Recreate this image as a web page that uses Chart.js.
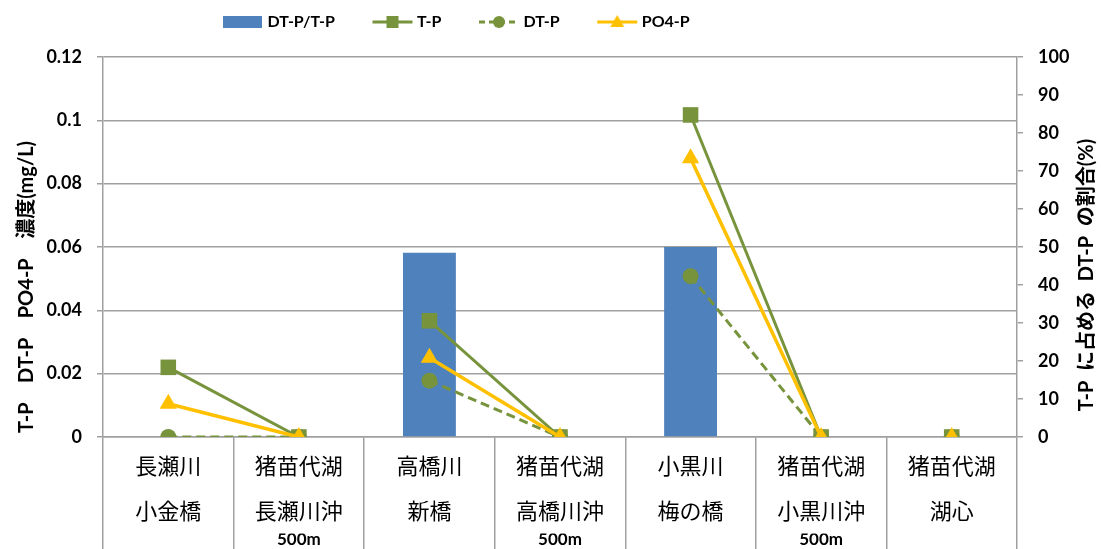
<!DOCTYPE html>
<html>
<head>
<meta charset="utf-8">
<script src="https://cdn.jsdelivr.net/npm/chart.js@4.4.1/dist/chart.umd.min.js"></script>
<style>
  html, body { margin: 0; padding: 0; background: #fff; }
  #wrap { width: 1101px; height: 549px; position: relative; }
</style>
</head>
<body>
<div id="wrap"><canvas id="c" width="1101" height="549"></canvas></div>
<script>
// ---- data ----
const labelLine1 = ['長瀬川', '猪苗代湖', '高橋川', '猪苗代湖', '小黒川', '猪苗代湖', '猪苗代湖'];
const labelLine2 = ['小金橋', '長瀬川沖', '新橋', '高橋川沖', '梅の橋', '小黒川沖', '湖心'];
const labelLine3 = ['', '500m', '', '500m', '', '500m', ''];
const ratioDTP = [0, 0, 48.5, 0, 50, 0, 0];          // DT-P/T-P (%)
const valTP    = [0.022, 0, 0.0367, 0, 0.1017, 0, 0]; // T-P (mg/L)
const valDTP   = [0, 0, 0.0178, 0, 0.0508, 0, 0];     // DT-P (mg/L)
const valPO4P  = [0.0105, 0, 0.025, 0, 0.088, 0, 0];  // PO4-P (mg/L)
const seriesNames = ['DT-P/T-P', 'T-P', 'DT-P', 'PO4-P'];
const leftTitle  = 'T-P    DT-P    PO4-P    濃度(mg/L)';
const rightTitle = 'T-P  に占める  DT-P  の割合(%)';

// ---- styles ----
const BLUE = '#4F81BD', GREEN = '#77933C', YELLOW = '#FFC000', GRID = '#a0a0a0';
const tickFont = { family: 'Lato, "Noto Sans CJK JP", sans-serif', size: 18, weight: 'bold' };

function legendIcon(kind) {
  const c = document.createElement('canvas');
  c.width = 80; c.height = 18;
  const g = c.getContext('2d');
  const x0 = 37, x1 = 77, cx = 57, cy = 9;
  if (kind === 'bar') {
    g.fillStyle = BLUE; g.fillRect(x0, 3, 39, 12);
    return c;
  }
  const col = kind === 'po4' ? YELLOW : GREEN;
  g.strokeStyle = col; g.fillStyle = col; g.lineWidth = 3;
  if (kind === 'dtp') g.setLineDash([6, 4]);
  g.beginPath(); g.moveTo(x0, cy); g.lineTo(x1, cy); g.stroke();
  g.setLineDash([]);
  if (kind === 'tp') g.fillRect(cx - 6, cy - 6, 12, 12);
  if (kind === 'dtp') { g.beginPath(); g.arc(cx, cy, 6, 0, Math.PI * 2); g.fill(); }
  if (kind === 'po4') { g.beginPath(); g.moveTo(cx, cy - 7); g.lineTo(cx + 7, cy + 5); g.lineTo(cx - 7, cy + 5); g.closePath(); g.fill(); }
  return c;
}
const icons = [legendIcon('bar'), legendIcon('tp'), legendIcon('dtp'), legendIcon('po4')];

const hideGaps = { borderColor: ctx => (ctx.p0DataIndex % 2 === 1 ? 'rgba(0,0,0,0)' : undefined) };

const legendShift = {
  id: 'legendShift',
  afterLayout(chart) {
    const lg = chart.legend;
    if (!lg) return;
    const pad = lg.options.labels.padding;
    const d = 192.5 - (lg.left + pad);
    lg.left += d; lg.right += d;
  }
};

const axisTitles = {
  id: 'axisTitles',
  afterDraw(chart) {
    const ctx = chart.ctx;
    ctx.save();
    ctx.font = 'bold 20px Lato, "Noto Sans CJK JP", sans-serif';
    ctx.fillStyle = '#000';
    ctx.textAlign = 'center';
    ctx.textBaseline = 'middle';
    const draw = (t, x, y) => { ctx.save(); ctx.translate(x, y); ctx.rotate(-Math.PI / 2); ctx.fillText(t, 0, 0); ctx.restore(); };
    draw(leftTitle, 27, 287);
    draw(rightTitle, chart.width - 14, 275);
    ctx.restore();
  }
};

new Chart(document.getElementById('c'), {
  type: 'bar',
  data: {
    labels: labelLine1.map((a, i) => [a, labelLine2[i]]),
    datasets: [
      { type: 'bar', label: seriesNames[0], data: ratioDTP, yAxisID: 'y1', backgroundColor: BLUE,
        barPercentage: 0.405, categoryPercentage: 1, order: 3 },
      { type: 'line', label: seriesNames[1], data: valTP, yAxisID: 'y', borderColor: GREEN, backgroundColor: GREEN,
        borderWidth: 3, pointStyle: 'rect', pointRadius: 11, pointHoverRadius: 11, pointBorderWidth: 0,
        segment: hideGaps, order: 2 },
      { type: 'line', label: seriesNames[2], data: valDTP, yAxisID: 'y', borderColor: GREEN, backgroundColor: GREEN,
        borderWidth: 3, borderDash: [9, 5], pointStyle: 'circle', pointRadius: 8, pointHoverRadius: 8, pointBorderWidth: 0,
        segment: hideGaps, order: 1 },
      { type: 'line', label: seriesNames[3], data: valPO4P, yAxisID: 'y', borderColor: YELLOW, backgroundColor: YELLOW,
        borderWidth: 3.5, pointStyle: 'triangle', pointRadius: 10, pointHoverRadius: 10, pointBorderWidth: 0,
        segment: hideGaps, order: 0 }
    ]
  },
  options: {
    responsive: false,
    animation: false,
    layout: { padding: { top: 7, bottom: 2.5, left: 0, right: 0 } },
    plugins: {
      tooltip: { enabled: false },
      title: { display: true, text: '', position: 'top', weight: 500, padding: 0,
        font: { size: 10, lineHeight: '17px' } },
      legend: {
        position: 'top',
        align: 'start',
        weight: 1000,
        labels: {
          usePointStyle: true,
          pointStyleWidth: 67,
          padding: 7,
          color: '#000',
          font: { family: 'Lato, sans-serif', size: 16, weight: 'bold' },
          generateLabels: chart => seriesNames.map((n, i) => ({
            text: n, pointStyle: icons[i], fillStyle: 'rgba(0,0,0,0)', strokeStyle: 'rgba(0,0,0,0)',
            lineWidth: 0, hidden: false, datasetIndex: i, fontColor: '#000'
          }))
        }
      }
    },
    scales: {
      x: {
        type: 'category', position: 'bottom', offset: true, weight: 0,
        afterFit: s => { s.height = 96.5; },
        grid: { offset: true, drawOnChartArea: false, drawTicks: true, tickLength: 112, color: GRID, lineWidth: 1.5 },
        border: { display: true, color: GRID, width: 1.5 },
        ticks: { color: '#000', maxRotation: 0, autoSkip: false, padding: -105.5,
          font: { family: '"Noto Sans CJK JP", sans-serif', size: 22, lineHeight: '45px' } }
      },
      x2: {
        type: 'category', labels: labelLine3, position: 'bottom', offset: true, weight: 1,
        afterFit: s => { s.height = 13; },
        grid: { display: false, drawTicks: false }, border: { display: false },
        ticks: { color: '#000', maxRotation: 0, autoSkip: false, padding: 0,
          font: { family: 'Lato, sans-serif', size: 17, weight: 'bold', lineHeight: '13px' } }
      },
      y: {
        type: 'linear', position: 'left', min: 0, max: 0.12,
        afterFit: s => { s.width = 103; },
        grid: { color: GRID, lineWidth: 1.5, tickLength: 6 },
        border: { display: true, color: GRID, width: 1.5 },
        ticks: { stepSize: 0.02, padding: 15, color: '#000', font: tickFont,
          callback: v => String(Number(v.toFixed(2))) }
      },
      y1: {
        type: 'linear', position: 'right', min: 0, max: 100,
        afterFit: s => { s.width = 84; },
        grid: { drawOnChartArea: false, color: GRID, lineWidth: 1.5, tickLength: 6 },
        border: { display: true, color: GRID, width: 1.5 },
        ticks: { stepSize: 10, padding: 15, color: '#000', font: tickFont }
      }
    }
  },
  plugins: [legendShift, axisTitles]
});
</script>
</body>
</html>
